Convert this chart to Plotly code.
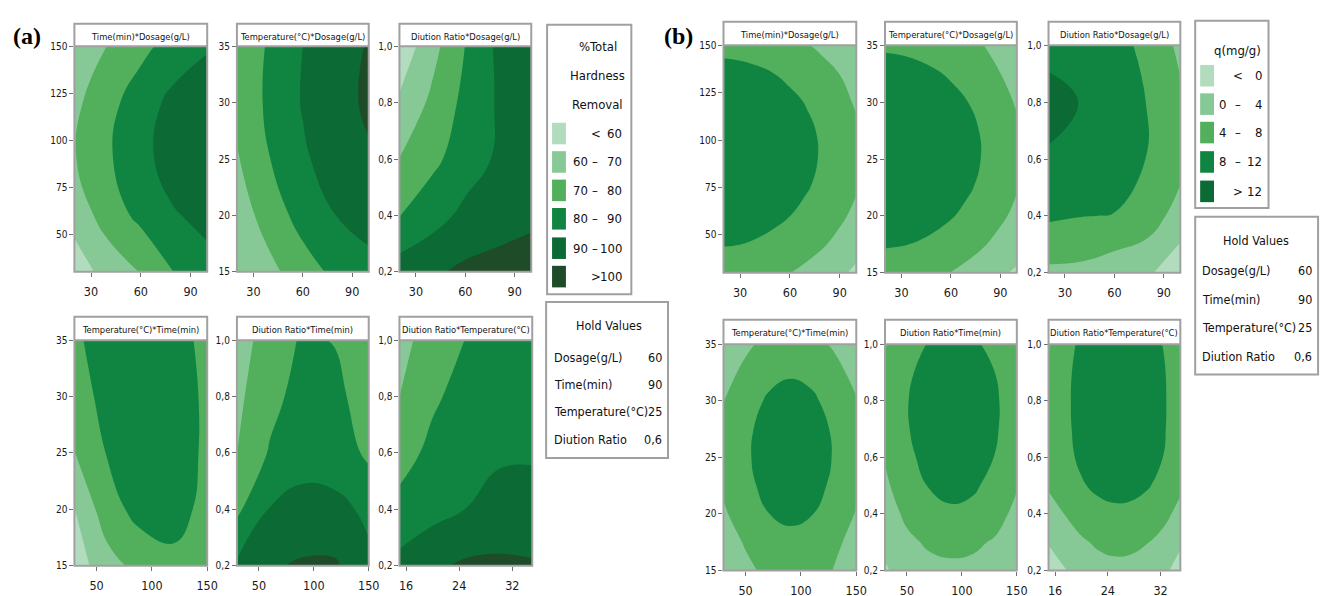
import plotly.graph_objects as go

W, H = 1329, 596

# ---------------- grid nodes (data units) ----------------
dosage = [20, 40, 60, 80, 100]
time_min = [30, 60, 90, 120, 150]
temperature = [15, 20, 25, 30, 35]
dilution = [0.2, 0.4, 0.6, 0.8, 1.0]
# finer node sets used for panel (b)
dosage9 = [20, 30, 40, 50, 60, 70, 80, 90, 100]
time9 = [30, 45, 60, 75, 90, 105, 120, 135, 150]
time7 = [30, 50, 70, 90, 110, 130, 150]
temp9 = [15, 17.5, 20, 22.5, 25, 27.5, 30, 32.5, 35]
dilution9 = [0.2, 0.3, 0.4, 0.5, 0.6, 0.7, 0.8, 0.9, 1.0]

# ---------------- (a) % Total Hardness Removal (rows: y low -> high) ----------------
a_time_dosage = [
    [55.0, 63.5, 70.5, 80.2, 86.5],
    [63.5, 74.7, 82.6, 89.1, 93.0],
    [69.4, 78.7, 86.6, 95.0, 98.2],
    [67.7, 77.0, 84.9, 93.0, 96.4],
    [60.2, 70.3, 77.4, 83.9, 89.0],
]
a_temp_dosage = [
    [61.0, 67.2, 75.8, 82.2, 86.4],
    [64.1, 75.0, 83.6, 90.0, 94.2],
    [69.1, 79.9, 88.5, 94.9, 99.1],
    [72.5, 82.1, 90.7, 97.1, 101.3],
    [72.0, 81.4, 90.0, 96.4, 100.6],
]
a_ratio_dosage = [
    [95.0, 98.5, 102.0, 104.0, 105.0],
    [79.6, 86.0, 92.5, 95.0, 97.8],
    [70.2, 77.7, 85.0, 91.5, 96.5],
    [61.5, 72.2, 82.7, 91.0, 97.5],
    [53.0, 66.7, 80.2, 92.0, 100.3],
]
a_temp_time = [
    [55.0, 66.0, 73.5, 77.0, 74.0],
    [59.6, 76.0, 83.5, 84.5, 76.5],
    [69.8, 80.6, 87.5, 87.0, 77.5],
    [75.0, 83.5, 88.0, 87.0, 77.5],
    [78.5, 84.0, 86.5, 85.0, 76.5],
]
a_ratio_time = [
    [91.5, 98.8, 101.3, 101.2, 91.5],
    [78.0, 90.5, 92.5, 92.0, 88.5],
    [69.8, 81.0, 87.0, 86.0, 78.0],
    [67.9, 76.8, 84.0, 82.5, 75.0],
    [66.5, 73.5, 81.5, 79.5, 72.0],
]
a_ratio_temp = [
    [93.0, 98.5, 101.5, 102.0, 101.0],
    [83.0, 86.5, 90.1, 92.5, 93.5],
    [76.0, 82.5, 86.0, 89.0, 89.0],
    [70.0, 78.5, 83.5, 87.5, 89.5],
    [67.5, 73.5, 80.3, 86.0, 89.0],
]

# ---------------- (b) q (mg/g) ----------------
b_time_dosage = [
    [5.90, 5.72, 5.36, 4.81, 4.07, 3.14, 2.02, 0.71, -0.79],
    [8.20, 8.02, 7.66, 7.11, 6.37, 5.44, 4.32, 3.01, 1.51],
    [9.85, 9.68, 9.32, 8.77, 8.03, 7.10, 5.98, 4.67, 3.16],
    [11.01, 10.84, 10.48, 9.93, 9.19, 8.26, 7.14, 5.82, 4.32],
    [11.52, 11.35, 10.99, 10.44, 9.70, 8.76, 7.64, 6.33, 4.83],
    [11.38, 11.21, 10.84, 10.29, 9.55, 8.62, 7.50, 6.19, 4.69],
    [10.58, 10.41, 10.05, 9.50, 8.76, 7.83, 6.71, 5.40, 3.50],
    [9.14, 8.97, 8.60, 8.05, 7.31, 6.38, 5.26, 3.95, 2.45],
    [7.04, 6.87, 6.51, 5.96, 5.22, 4.28, 3.16, 1.85, 0.35],
]
b_temp_dosage = [
    [5.88, 5.70, 5.32, 4.74, 3.95, 2.97, 1.78, 0.39, -0.40],
    [8.36, 8.18, 7.79, 7.21, 6.43, 5.44, 4.25, 2.86, 1.27],
    [10.18, 10.00, 9.62, 9.04, 8.25, 7.26, 6.08, 4.69, 3.10],
    [11.35, 11.17, 10.79, 10.21, 9.42, 8.44, 7.25, 5.86, 4.27],
    [11.88, 11.69, 11.31, 10.73, 9.94, 8.96, 7.77, 6.38, 4.79],
    [11.75, 11.56, 11.18, 10.60, 9.81, 8.83, 7.64, 6.25, 4.66],
    [10.96, 10.78, 10.40, 9.82, 9.03, 8.05, 6.86, 5.47, 3.60],
    [9.53, 9.35, 8.97, 8.38, 7.60, 6.61, 5.42, 4.04, 2.45],
    [7.45, 7.27, 6.88, 6.30, 5.51, 4.53, 4.00, 2.60, 0.36],
]
b_ratio_dosage = [
    [3.2, 3.0, 1.6, 0.6, -2.5],
    [8.6, 8.1, 7.9, 6.2, 2.2],
    [11.7, 11.0, 9.6, 7.9, 5.5],
    [12.9, 11.9, 10.0, 7.9, 4.7],
    [11.2, 10.0, 9.6, 6.8, 3.2],
]
b_temp_time = [
    [-0.3, 3.0, 4.96, 5.7, 5.12, 3.9, 0.8],
    [1.9, 4.4, 6.36, 7.1, 6.52, 5.1, 2.2],
    [3.47, 5.97, 7.93, 8.67, 8.09, 6.27, 3.77],
    [4.55, 7.05, 9.01, 9.75, 9.17, 7.35, 4.85],
    [4.99, 7.49, 9.45, 10.19, 9.61, 7.79, 5.29],
    [4.79, 7.29, 9.25, 9.99, 9.41, 7.59, 5.09],
    [3.95, 6.45, 8.41, 9.15, 8.57, 6.75, 4.25],
    [2.48, 4.98, 6.94, 7.68, 7.10, 5.28, 2.78],
    [0.7, 3.2, 5.16, 5.9, 5.32, 3.5, 1.0],
]
b_ratio_time = [
    [-0.4, 1.6, 2.7, 3.3, 3.0, 1.9, -0.2],
    [0.9, 3.1, 4.6, 4.9, 4.7, 3.6, 1.08],
    [1.89, 4.89, 6.76, 7.50, 7.10, 5.57, 2.91],
    [3.28, 6.28, 8.15, 8.89, 8.49, 6.96, 4.30],
    [4.24, 7.24, 9.11, 9.85, 9.45, 7.92, 5.26],
    [4.77, 7.77, 9.64, 10.38, 9.98, 8.45, 5.79],
    [4.86, 7.86, 9.73, 10.47, 10.07, 8.54, 5.88],
    [4.53, 7.40, 9.30, 10.10, 9.60, 8.00, 5.55],
    [3.76, 6.76, 8.20, 9.37, 8.60, 7.0, 3.8],
]
b_ratio_temp = [
    [-1.8, -0.19, 1.46, 2.52, 2.98, 2.84, 2.09, 0.74, -1.5],
    [0.23, 1.84, 3.49, 4.55, 5.01, 4.87, 4.12, 2.77, 0.53],
    [2.48, 4.09, 5.74, 6.80, 7.26, 7.12, 6.37, 5.02, 2.78],
    [4.40, 6.01, 7.66, 8.72, 9.18, 9.04, 8.29, 6.94, 4.70],
    [5.40, 7.01, 8.66, 9.72, 10.18, 10.04, 9.29, 7.94, 5.70],
    [5.72, 7.33, 8.98, 10.04, 10.50, 10.36, 9.61, 8.26, 6.02],
    [5.80, 7.41, 9.06, 10.12, 10.58, 10.44, 9.69, 8.34, 6.10],
    [4.60, 7.31, 8.96, 10.02, 10.48, 10.34, 9.59, 8.24, 6.00],
    [3.70, 6.94, 8.59, 9.65, 10.11, 9.97, 9.22, 7.87, 3.80],
]

# ---------------- levels, colours, labels ----------------
levels_a = [60, 70, 80, 90, 100]
colors_a = ["#b2dcbe", "#86c896", "#52af5c", "#108542", "#0c6a34", "#1e4b28"]
labels_a = [("<", "60"), ("60", "70"), ("70", "80"), ("80", "90"), ("90", "100"), (">", "100")]
levels_b = [0, 4, 8, 12]
colors_b = ["#b2dcbe", "#86c896", "#52af5c", "#108542", "#0c6a34"]
labels_b = [("<", "0"), ("0", "4"), ("4", "8"), ("8", "12"), (">", "12")]

hold_names = ["Dosage(g/L)", "Time(min)", "Temperature(°C)", "Diution Ratio"]
hold_values = ["60", "90", "25", "0,6"]

titles = ["Time(min)*Dosage(g/L)", "Temperature(°C)*Dosage(g/L)", "Diution Ratio*Dosage(g/L)",
          "Temperature(°C)*Time(min)", "Diution Ratio*Time(min)", "Diution Ratio*Temperature(°C)"]

tick_dosage = [30, 60, 90]
tick_time_y = [50, 75, 100, 125, 150]
tick_time_x = [50, 100, 150]
tick_temp_y = [15, 20, 25, 30, 35]
tick_temp_x = [16, 24, 32]
tick_ratio = [0.2, 0.4, 0.6, 0.8, 1.0]
tick_ratio_text = ["0,2", "0,4", "0,6", "0,8", "1,0"]

FONT = "DejaVu Sans Condensed, Liberation Sans Narrow, sans-serif"
GREY = "#a0a0a0"


def px_x(p):
    return p / W


def px_y(p):
    return 1 - p / H


def step_scale(colors):
    n = len(colors)
    sc = []
    for k, c in enumerate(colors):
        lo = 0 if k == 0 else (k - 0.5) / (n - 1)
        hi = 1 if k == n - 1 else (k + 0.5) / (n - 1)
        sc += [[lo, c], [hi, c]]
    return sc


xaxis_spec = {
    "dos": ([20, 100], tick_dosage, [str(v) for v in tick_dosage]),
    "time": ([30, 150], tick_time_x, [str(v) for v in tick_time_x]),
    "temp": ([15, 35], tick_temp_x, [str(v) for v in tick_temp_x]),
}
yaxis_spec = {
    "time": ([30, 150], tick_time_y, [str(v) for v in tick_time_y]),
    "temp": ([15, 35], tick_temp_y, [str(v) for v in tick_temp_y]),
    "ratio": ([0.2, 1.0], tick_ratio, tick_ratio_text),
}
pairs = [("dos", "time"), ("dos", "temp"), ("dos", "ratio"),
         ("time", "temp"), ("time", "ratio"), ("temp", "ratio")]

# plot boxes in pixels: left, right, top, bottom, header top
boxes_a = [(66, 200, 33, 263, 10), (230, 363, 33, 263, 10), (394, 527, 33, 263, 10),
           (66, 200, 333, 563, 309), (230, 363, 333, 563, 309), (394, 528, 333, 563, 309)]
boxes_b = [(721, 855, 32, 264, 8), (884, 1017, 32, 264, 8), (1049, 1182, 32, 264, 8),
           (721, 855, 337, 568, 312), (884, 1017, 337, 568, 312), (1049, 1182, 337, 568, 312)]

grids_a = [(dosage, time_min, a_time_dosage), (dosage, temperature, a_temp_dosage),
           (dosage, dilution, a_ratio_dosage), (time_min, temperature, a_temp_time),
           (time_min, dilution, a_ratio_time), (temperature, dilution, a_ratio_temp)]
grids_b = [(dosage9, time9, b_time_dosage), (dosage9, temp9, b_temp_dosage),
           (dosage, dilution, b_ratio_dosage), (time7, temp9, b_temp_time),
           (time7, dilution9, b_ratio_time), (temp9, dilution9, b_ratio_temp)]

fig = go.Figure()
layout = dict(width=W, height=H, autosize=False, margin=dict(l=0, r=0, t=0, b=0),
              paper_bgcolor="white", plot_bgcolor="white", showlegend=False)
shapes = []
annotations = []

idx = 0
for grids, boxes, levels, colors in [(grids_a, boxes_a, levels_a, colors_a),
                                     (grids_b, boxes_b, levels_b, colors_b)]:
    size = levels[1] - levels[0]
    for k in range(6):
        idx += 1
        xs, ys, zs = grids[k]
        xr, xt, xtt = xaxis_spec[pairs[k][0]]
        yr, yt, ytt = yaxis_spec[pairs[k][1]]
        L, R, T, B, HT = boxes[k]
        xa = "x" if idx == 1 else f"x{idx}"
        ya = "y" if idx == 1 else f"y{idx}"
        fig.add_trace(go.Contour(
            x=xs, y=ys, z=zs, xaxis=xa, yaxis=ya,
            autocontour=False,
            contours=dict(start=levels[0], end=levels[-1], size=size, coloring="fill", showlines=False),
            colorscale=step_scale(colors), zmin=levels[0] - size, zmax=levels[-1] + size,
            line=dict(width=0, smoothing=1.3), showscale=False, hoverinfo="skip"))
        kx = "xaxis" if idx == 1 else f"xaxis{idx}"
        ky = "yaxis" if idx == 1 else f"yaxis{idx}"
        layout[kx] = dict(domain=[px_x(L), px_x(R)], range=xr, anchor=ya, showgrid=False,
                          zeroline=False, showline=False, ticks="outside", ticklen=4,
                          tickcolor="#707070", tickvals=xt, ticktext=xtt, ticklabelstandoff=4,
                          tickfont=dict(family=FONT, size=12.5, color="#1a1a1a"))
        layout[ky] = dict(domain=[px_y(B), px_y(T)], range=yr, anchor=xa, showgrid=False,
                          zeroline=False, showline=False, ticks="outside", ticklen=4,
                          tickcolor="#707070", tickvals=yt, ticktext=ytt,
                          tickfont=dict(family=FONT, size=10, color="#1a1a1a"))
        shapes.append(dict(type="rect", xref="paper", yref="paper", x0=px_x(L), x1=px_x(R),
                           y0=px_y(B), y1=px_y(HT), line=dict(color=GREY, width=2)))
        shapes.append(dict(type="line", xref="paper", yref="paper", x0=px_x(L), x1=px_x(R),
                           y0=px_y(T), y1=px_y(T), line=dict(color=GREY, width=2)))
        annotations.append(dict(xref="paper", yref="paper", x=px_x((L + R) / 2), y=px_y((HT + T) / 2 + 1),
                                text=titles[k], showarrow=False, xanchor="center", yanchor="middle",
                                font=dict(family=FONT, size=9.3, color="#111")))


def text(xp, yp, s, anchor="left", size=12.5, family=FONT, color="#111"):
    annotations.append(dict(xref="paper", yref="paper", x=px_x(xp), y=px_y(yp), text=s,
                            showarrow=False, xanchor=anchor, yanchor="middle",
                            font=dict(family=family, size=size, color=color)))


def rect(x0, x1, y0, y1, fill=None, line=GREY, lw=2):
    d = dict(type="rect", xref="paper", yref="paper", x0=px_x(x0), x1=px_x(x1),
             y0=px_y(y1), y1=px_y(y0))
    if fill:
        d["fillcolor"] = fill
        d["line"] = dict(width=0)
    else:
        d["line"] = dict(color=line, width=lw)
    shapes.append(d)


# panel labels
text(2, 22, "<b>(a)</b>", size=24, family="Liberation Serif, Times New Roman, serif", color="#000")
text(659, 22, "<b>(b)</b>", size=24, family="Liberation Serif, Times New Roman, serif", color="#000")

# legend (a)
rect(543, 628, 11, 286)
text(594, 33, "%Total", anchor="center", size=13)
text(594, 63, "Hardness", anchor="center", size=13)
text(594, 92, "Removal", anchor="center", size=13)
sw_top_a = [111, 140, 169, 198, 228, 257]
for k, c in enumerate(colors_a):
    y0 = sw_top_a[k]
    rect(548, 562, y0, y0 + 22, fill=c)
    lo, hi = labels_a[k]
    yc = y0 + 11
    if lo in ("<", ">"):
        text(592, yc, lo, anchor="center", size=13)
    else:
        text(567, yc, lo, anchor="left", size=13)
        text(591, yc, "–", anchor="center", size=13)
    text(621, yc, hi, anchor="right", size=13)

# hold values (a)
rect(542, 665, 294, 453)
text(605, 318, "Hold Values", anchor="center")
for k, (n, v) in enumerate(zip(hold_names, hold_values)):
    yc = [351, 378, 406, 434][k]
    text(548, yc, n, anchor="left")
    text(661, yc, v, anchor="right")

# legend (b)
rect(1197, 1271, 7, 198)
text(1240, 37, "q(mg/g)", anchor="center", size=13)
sw_top_b = [52, 81, 110, 140, 170]
for k, c in enumerate(colors_b):
    y0 = sw_top_b[k]
    rect(1202, 1216, y0, y0 + 22, fill=c)
    lo, hi = labels_b[k]
    yc = y0 + 11
    if lo in ("<", ">"):
        text(1240, yc, lo, anchor="center", size=13)
    else:
        text(1225, yc, lo, anchor="center", size=13)
        text(1240, yc, "–", anchor="center", size=13)
    text(1266, yc, hi, anchor="right", size=13)

# hold values (b)
rect(1197, 1321, 207, 368)
text(1258, 231, "Hold Values", anchor="center")
for k, (n, v) in enumerate(zip(hold_names, hold_values)):
    yc = [262, 291, 320, 350][k]
    text(1202, yc, n, anchor="left")
    text(1317, yc, v, anchor="right")

layout["shapes"] = shapes
layout["annotations"] = annotations
fig.update_layout(**layout)
fig.write_html("out.html")
